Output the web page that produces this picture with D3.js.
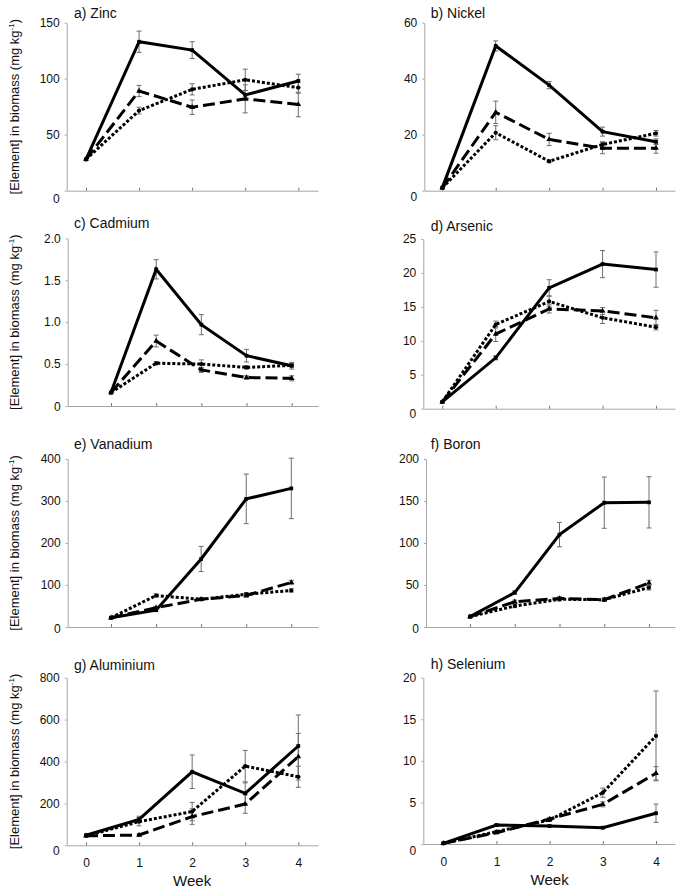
<!DOCTYPE html>
<html>
<head>
<meta charset="utf-8">
<script src="https://cdn.jsdelivr.net/npm/d3@7"></script>
<style>
  html, body { margin: 0; padding: 0; background: #fff; }
  svg { display: block; font-family: "Liberation Sans", Arial, sans-serif; }
</style>
</head>
<body>
<svg id="chart" width="683" height="893"></svg>
<script>
// ---------------- DATA ----------------
const weeks = [0, 1, 2, 3, 4];
const panelTitles = ["a) Zinc", "b) Nickel", "c) Cadmium", "d) Arsenic",
                     "e) Vanadium", "f) Boron", "g) Aluminium", "h) Selenium"];
const yMaxes = [150, 60, 2, 25, 400, 200, 800, 20];
const yTicks = [
  [0, 50, 100, 150],
  [0, 20, 40, 60],
  [0, 0.5, 1.0, 1.5, 2.0],
  [0, 5, 10, 15, 20, 25],
  [0, 100, 200, 300, 400],
  [0, 50, 100, 150, 200],
  [0, 200, 400, 600, 800],
  [0, 5, 10, 15, 20]
];
const xTickLabels = ["0", "1", "2", "3", "4"];
const xAxisTitle = "Week";
const yAxisTitle = "[Element] in biomass (mg kg";
const yAxisTitleSup = "-1";

// Zinc
const zincSolid     = [28, 133, 125.5, 85.5, 98];
const zincSolidErr  = [0, 9.5, 7.5, 4, 6];
const zincDashed    = [28, 89, 74.5, 82, 77];
const zincDashedErr = [0, 5, 6.5, 12.5, 11];
const zincDotted    = [28, 71.5, 90.5, 99, 92];
const zincDottedErr = [0, 3, 5, 9.5, 5];
// Nickel
const nickelSolid     = [1.1, 51.7, 37.7, 21.1, 17.5];
const nickelSolidErr  = [0, 1.8, 1.3, 1.6, 1];
const nickelDashed    = [1, 28, 18.3, 15.2, 15.2];
const nickelDashedErr = [0, 4, 2.2, 2, 1.8];
const nickelDotted    = [1, 20.7, 10.5, 16.5, 20.5];
const nickelDottedErr = [0, 2.5, 0.5, 1, 1];
// Cadmium
const cadmiumSolid     = [0.16, 1.63, 0.97, 0.6, 0.48];
const cadmiumSolidErr  = [0, 0.115, 0.12, 0.075, 0.04];
const cadmiumDashed    = [0.16, 0.775, 0.43, 0.34, 0.33];
const cadmiumDashedErr = [0, 0.07, 0.03, 0.02, 0.03];
const cadmiumDotted    = [0.16, 0.51, 0.5, 0.46, 0.485];
const cadmiumDottedErr = [0, 0.02, 0.05, 0.02, 0.02];
// Arsenic
const arsenicSolid     = [1.0, 7.5, 17.8, 21.3, 20.5];
const arsenicSolidErr  = [0, 0.3, 1.2, 2, 2.6];
const arsenicDashed    = [1, 11, 14.7, 14.4, 13.4];
const arsenicDashedErr = [0, 1.1, 0.6, 0.5, 1.1];
const arsenicDotted    = [1, 12.4, 15.8, 13.4, 12];
const arsenicDottedErr = [0, 0.5, 0.8, 0.85, 0.4];
// Vanadium
const vanadiumSolid     = [22, 40, 162, 305, 330];
const vanadiumSolidErr  = [0, 3, 30, 59, 72];
const vanadiumDashed    = [22, 46, 66, 75, 106];
const vanadiumDashedErr = [0, 3, 3, 4, 5];
const vanadiumDotted    = [22, 75, 66, 78, 87];
const vanadiumDottedErr = [0, 4, 3, 4, 4];
// Boron
const boronSolid     = [12.3, 41, 110, 148, 148.4];
const boronSolidErr  = [0, 2, 14.5, 30.5, 30.5];
const boronDashed    = [12.3, 30, 34, 32.5, 52.5];
const boronDashedErr = [0, 2, 2, 2, 3];
const boronDotted    = [12.3, 25, 33, 32.5, 47];
const boronDottedErr = [0, 2, 2, 2, 3];
// Aluminium
const aluminiumSolid     = [48, 124, 351, 248, 474];
const aluminiumSolidErr  = [0, 15, 80, 50, 148];
const aluminiumDashed    = [45, 49, 137, 197, 423];
const aluminiumDashedErr = [0, 5, 37, 44, 111];
const aluminiumDotted    = [45, 113, 161, 378, 327];
const aluminiumDottedErr = [0, 20, 44, 75, 50];
// Selenium
const seleniumSolid     = [0.08, 2.28, 2.16, 1.96, 3.7];
const seleniumSolidErr  = [0, 0.1, 0.1, 0.1, 1.1];
const seleniumDashed    = [0.08, 1.36, 3.0, 4.77, 8.5];
const seleniumDashedErr = [0, 0.1, 0.2, 0.3, 0.8];
const seleniumDotted    = [0.08, 1.48, 2.9, 6.17, 13.0];
const seleniumDottedErr = [0, 0.1, 0.2, 0.55, 5.4];

const panelSeries = [
  [[zincSolid, zincSolidErr], [zincDashed, zincDashedErr], [zincDotted, zincDottedErr]],
  [[nickelSolid, nickelSolidErr], [nickelDashed, nickelDashedErr], [nickelDotted, nickelDottedErr]],
  [[cadmiumSolid, cadmiumSolidErr], [cadmiumDashed, cadmiumDashedErr], [cadmiumDotted, cadmiumDottedErr]],
  [[arsenicSolid, arsenicSolidErr], [arsenicDashed, arsenicDashedErr], [arsenicDotted, arsenicDottedErr]],
  [[vanadiumSolid, vanadiumSolidErr], [vanadiumDashed, vanadiumDashedErr], [vanadiumDotted, vanadiumDottedErr]],
  [[boronSolid, boronSolidErr], [boronDashed, boronDashedErr], [boronDotted, boronDottedErr]],
  [[aluminiumSolid, aluminiumSolidErr], [aluminiumDashed, aluminiumDashedErr], [aluminiumDotted, aluminiumDottedErr]],
  [[seleniumSolid, seleniumSolidErr], [seleniumDashed, seleniumDashedErr], [seleniumDotted, seleniumDottedErr]]
];

// ---------------- LAYOUT ----------------
const layout = [
  {xL: 66.7, xR: 318, x0: 86,    x4: 298.3, yT: 22.7,  yB: 190.7, tY: 18.3,  zDy: 8},
  {xL: 424.3, xR: 675, x0: 442.3, x4: 656,  yT: 22.7,  yB: 190.7, tY: 17.5,  zDy: 6},
  {xL: 67.7, xR: 318, x0: 111,   x4: 291.7, yT: 238.3, yB: 406,   tY: 228.3, zDy: 1},
  {xL: 423.3, xR: 675, x0: 442.3, x4: 656,  yT: 239,   yB: 408.7, tY: 230.5, zDy: 5},
  {xL: 67.7, xR: 318, x0: 111,   x4: 291.3, yT: 459,   yB: 627,   tY: 449,   zDy: 2},
  {xL: 426, xR: 675, x0: 470,    x4: 649,   yT: 459,   yB: 627,   tY: 449,   zDy: 2},
  {xL: 66.7, xR: 318, x0: 86,    x4: 298.3, yT: 677.7, yB: 845.3, tY: 670,   zDy: 5},
  {xL: 423.3, xR: 675, x0: 443.3, x4: 656,  yT: 677.7, yB: 844,   tY: 669.3, zDy: 7}
];
const titleX = [74, 430.7];

const styles = [
  {dash: null,   cap: "butt", symbol: d3.symbolSquare,   size: 14},
  {dash: "12,5", cap: "butt", symbol: d3.symbolTriangle, size: 14},
  {dash: "3,2",  cap: "butt", symbol: d3.symbolCircle,   size: 14}
];

const svg = d3.select("#chart");
const axisColor = "#a6a6a6";

layout.forEach((L, i) => {
  const g = svg.append("g");
  const xs = d3.scaleLinear().domain([0, 4]).range([L.x0, L.x4]);
  const xAxisScale = d3.scaleLinear()
    .domain([xs.invert(L.xL), xs.invert(L.xR)]).range([L.xL, L.xR]);
  const ymax = yMaxes[i];
  const ys = d3.scaleLinear().domain([0, ymax]).range([L.yB, L.yT]);
  const bottomRow = i >= 6;

  // x axis
  const xAxis = d3.axisBottom(xAxisScale).tickValues(weeks)
    .tickSizeInner(-3).tickSizeOuter(0).tickPadding(13)
    .tickFormat((d, k) => bottomRow ? xTickLabels[k] : "");
  const gx = g.append("g").attr("transform", `translate(0,${L.yB})`).call(xAxis);
  gx.select(".domain").attr("stroke", axisColor);
  gx.selectAll(".tick line").attr("stroke", "#777");
  gx.selectAll("text").attr("font-size", 12).attr("fill", "#111")
    .attr("font-family", "Liberation Sans, Arial, sans-serif");

  // y axis
  const fmt = ymax <= 2 ? (d => d === 0 ? "0" : d3.format(".1f")(d)) : d3.format("d");
  const yAxis = d3.axisLeft(ys).tickValues(yTicks[i])
    .tickSizeInner(2).tickSizeOuter(0).tickPadding(5).tickFormat(fmt);
  const gy = g.append("g").attr("transform", `translate(${L.xL},0)`).call(yAxis);
  gy.select(".domain").attr("stroke", axisColor);
  gy.selectAll(".tick line").attr("stroke", axisColor);
  gy.selectAll("text").attr("font-size", 12).attr("fill", "#111")
    .attr("font-family", "Liberation Sans, Arial, sans-serif");
  gy.selectAll(".tick").filter(d => d === 0).select("text")
    .attr("transform", `translate(0,${L.zDy})`);

  // title
  g.append("text").attr("x", titleX[i % 2]).attr("y", L.tY)
    .attr("font-size", 14).attr("fill", "#111").text(panelTitles[i]);

  // y axis title for left column
  if (i % 2 === 0) {
    const cy = (L.yT + L.yB) / 2;
    const t = g.append("text")
      .attr("transform", `translate(19,${cy}) rotate(-90)`)
      .attr("text-anchor", "middle").attr("font-size", 13).attr("fill", "#111");
    t.append("tspan").text(yAxisTitle);
    t.append("tspan").attr("font-size", 8).attr("dy", -5).text(yAxisTitleSup);
    t.append("tspan").attr("dy", 5).text(")");
  }
  if (bottomRow) {
    g.append("text").attr("x", xs(2)).attr("y", L.yB + 41)
      .attr("text-anchor", "middle").attr("font-size", 15).attr("fill", "#111")
      .text(xAxisTitle);
  }

  const series = panelSeries[i];
  // error bars
  series.forEach(([vals, errs]) => {
    weeks.forEach((w, k) => {
      if (!errs[k]) return;
      const cx = xs(w), y1 = ys(vals[k] + errs[k]), y2 = ys(Math.max(0, vals[k] - errs[k]));
      const eg = g.append("g").attr("stroke", "#6e6e6e").attr("stroke-width", 1);
      eg.append("line").attr("x1", cx).attr("x2", cx).attr("y1", y1).attr("y2", y2);
      eg.append("line").attr("x1", cx - 2.5).attr("x2", cx + 2.5).attr("y1", y1).attr("y2", y1);
      eg.append("line").attr("x1", cx - 2.5).attr("x2", cx + 2.5).attr("y1", y2).attr("y2", y2);
    });
  });

  // lines
  const line = d3.line().x((d, k) => xs(weeks[k])).y(d => ys(d));
  series.forEach(([vals], s) => {
    const st = styles[s];
    g.append("path").datum(vals).attr("d", line)
      .attr("fill", "none").attr("stroke", "#000").attr("stroke-width", 3)
      .attr("stroke-linecap", st.cap).attr("stroke-linejoin", "miter")
      .attr("stroke-dasharray", st.dash);
    g.selectAll(null).data(vals).enter().append("path")
      .attr("d", d3.symbol().type(st.symbol).size(st.size))
      .attr("transform", (d, k) => `translate(${xs(weeks[k])},${ys(d)})`)
      .attr("fill", "#000");
  });
});
</script>
</body>
</html>
